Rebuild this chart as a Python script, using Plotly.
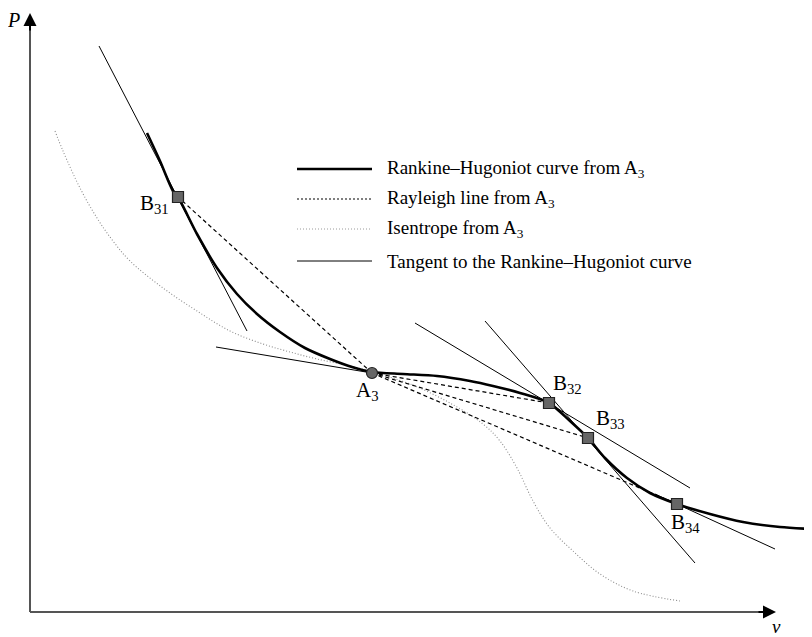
import plotly.graph_objects as go

# ---- data (schematic units: v to the right, P upward) ----
rh_v = [117, 130, 143, 148, 167, 187, 207, 227, 250, 275, 300, 322, 342, 373, 407, 440, 463, 490, 519, 540, 558, 575, 597, 620, 647, 680, 713, 750, 782]
rh_P = [485, 457, 427, 421, 384, 350, 324, 304, 286, 270, 259, 251, 246, 244, 242, 237, 232, 225, 215, 197, 180, 160, 140, 125, 114, 104, 96, 91, 89]

isen_v = [25, 33, 50, 67, 83, 100, 133, 167, 200, 233, 260, 287, 320, 342, 380, 420, 453, 470, 487, 503, 520, 543, 570, 603, 650]
isen_P = [487, 467, 430, 400, 377, 357, 330, 307, 287, 274, 266, 259, 252, 246, 234, 215, 194, 177, 150, 117, 90, 67, 44, 27, 17]

# state points
A3 = (342, 245)
B_names = ["B<sub>31</sub>", "B<sub>32</sub>", "B<sub>33</sub>", "B<sub>34</sub>"]
B_v = [148, 519, 558, 647]
B_P = [421, 215, 180, 114]

# tangents to the Rankine-Hugoniot curve (segment end points)
tan_v = [[69, 217], [186, 342], [385, 660], [455, 665], [625, 745]]
tan_P = [[572, 287], [271, 245], [295, 130], [297, 55], [124, 69]]

# label anchor positions
lab_B_v = [124, 537, 580, 655]
lab_B_P = [414, 234, 199, 95]
lab_A3 = (337, 227)

legend_labels = [
    "Rankine\u2013Hugoniot curve from A<sub>3</sub>",
    "Rayleigh line from A<sub>3</sub>",
    "Isentrope from A<sub>3</sub>",
    "Tangent to the Rankine\u2013Hugoniot curve",
]

FONT = "Liberation Serif, Times New Roman, serif"
W, H = 812, 637
X0, Y0 = 22, 610  # pixel position of the data origin
AXIS_P = 6        # height of the drawn v axis

fig = go.Figure()

# isentrope
fig.add_trace(go.Scatter(x=isen_v, y=isen_P, mode="lines", line=dict(color="#8c8c8c", width=1.1, dash="1px,2px", shape="spline")))
# tangents
for tv, tp in zip(tan_v, tan_P):
    fig.add_trace(go.Scatter(x=tv, y=tp, mode="lines", line=dict(color="black", width=1)))
# Rayleigh lines
for bv, bp in zip(B_v, B_P):
    fig.add_trace(go.Scatter(x=[A3[0], bv], y=[A3[1], bp], mode="lines", line=dict(color="black", width=1.2, dash="4px,3px")))
# Rankine-Hugoniot curve
fig.add_trace(go.Scatter(x=rh_v, y=rh_P, mode="lines", line=dict(color="black", width=2.6, shape="spline", smoothing=0.8)))
# markers
fig.add_trace(go.Scatter(x=B_v, y=B_P, mode="markers", marker=dict(symbol="square", size=11, color="#666666", line=dict(color="#222222", width=1.2))))
fig.add_trace(go.Scatter(x=[A3[0]], y=[A3[1]], mode="markers", marker=dict(symbol="circle", size=11, color="#666666", line=dict(color="#222222", width=1.2))))

# axes (lines + arrow heads)
fig.add_shape(type="line", x0=0, y0=AXIS_P, x1=0, y1=595, line=dict(color="#555555", width=2))
fig.add_shape(type="line", x0=0, y0=AXIS_P, x1=735, y1=AXIS_P, line=dict(color="#555555", width=2))
fig.add_annotation(x=0, y=605, ax=0, ay=586, axref="x", ayref="y", showarrow=True, arrowhead=2, arrowsize=1.3, arrowwidth=2, arrowcolor="black", text="")
fig.add_annotation(x=746, y=AXIS_P, ax=727, ay=AXIS_P, axref="x", ayref="y", showarrow=True, arrowhead=2, arrowsize=1.3, arrowwidth=2, arrowcolor="black", text="")
fig.add_annotation(x=-17, y=598, text="<i>P</i>", showarrow=False, font=dict(family=FONT, size=20, color="black"))
fig.add_annotation(x=746, y=AXIS_P - 14, text="<i>v</i>", showarrow=False, font=dict(family=FONT, size=19, color="black"))

# point labels
for name, lv, lp in zip(B_names, lab_B_v, lab_B_P):
    fig.add_annotation(x=lv, y=lp, text=name, showarrow=False, font=dict(family=FONT, size=21, color="black"))
fig.add_annotation(x=lab_A3[0], y=lab_A3[1], text="A<sub>3</sub>", showarrow=False, font=dict(family=FONT, size=21, color="black"))

# manual legend
rows_y = [161, 191, 221, 253]
styles = [
    dict(color="black", width=2.6),
    dict(color="black", width=1, dash="2px,2px"),
    dict(color="#9a9a9a", width=1, dash="1px,2px"),
    dict(color="black", width=1),
]
for ry, st, lab in zip(rows_y, styles, legend_labels):
    yp = 1 - ry / H
    fig.add_shape(type="line", xref="paper", yref="paper", x0=289 / W, x1=364 / W, y0=yp, y1=yp, line=st)
    fig.add_annotation(xref="paper", yref="paper", x=377 / W, y=yp, xanchor="left", yanchor="middle", text=lab, showarrow=False, font=dict(family=FONT, size=19, color="black"))

fig.update_layout(
    width=W, height=H,
    margin=dict(l=0, r=0, t=0, b=0),
    plot_bgcolor="white", paper_bgcolor="white",
    showlegend=False,
    xaxis=dict(range=[-X0, W - X0], visible=False, fixedrange=True),
    yaxis=dict(range=[-(H - Y0), Y0], visible=False, fixedrange=True),
)

fig.write_html("out.html")
